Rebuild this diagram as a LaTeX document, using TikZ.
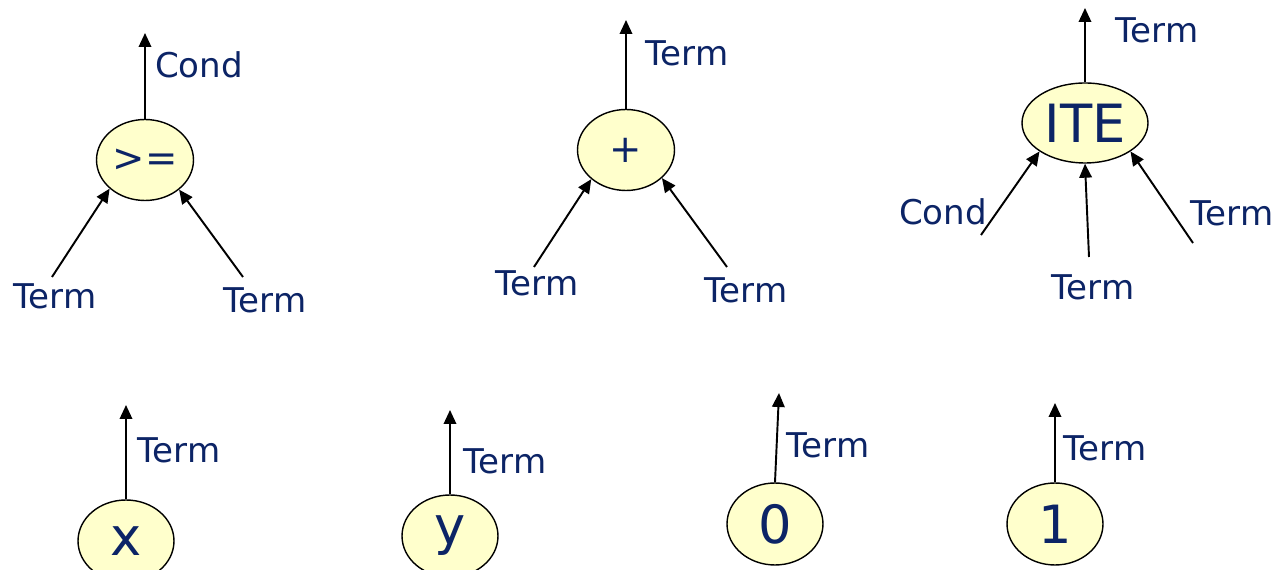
\documentclass[tikz,border=0pt]{standalone}
\usepackage{fontspec}
\setmainfont{DejaVu Sans}
\usetikzlibrary{arrows.meta,positioning,shapes.geometric}
\definecolor{termblue}{RGB}{12,36,102}
\definecolor{opyellow}{RGB}{255,255,204}

\begin{document}
\begin{tikzpicture}[x=0.02cm,y=-0.02cm,
    op/.style={ellipse,draw,line width=0.8pt,fill=opyellow,text=termblue,inner sep=0pt,
      minimum width=1.94cm,minimum height=1.62cm,font=\fontsize{22}{26}\selectfont},
    leaf/.style={op,minimum width=1.92cm,minimum height=1.64cm,font=\fontsize{30}{34}\selectfont},
    lbl/.style={text=termblue,inner sep=0pt,font=\fontsize{19.4}{23}\selectfont},
    arr/.style={-{Triangle[length=2.8mm,width=2.5mm]},line width=1.1pt}]
    \useasboundingbox (0,0) rectangle (1279,570);

    \node[op] (ge) at (145,160) {>=};
    \coordinate (geout) at (145,33);
    \coordinate (gel) at (52,277);
    \coordinate (ger) at (243,277);
    \draw[arr] (ge.north) -- (geout);
    \draw[arr] (gel) -- (ge.219);
    \draw[arr] (ger) -- (ge.319);
    \node[lbl] (gecond) at (199,65) {Cond};
    \node[lbl] (geleft) at (55,296) {Term};
    \node[lbl] (geright) at (265,300) {Term};

    \node[op] (plus) at (626,150) {+};
    \coordinate (plusout) at (626,20);
    \coordinate (plusl) at (534,267);
    \coordinate (plusr) at (727,267);
    \draw[arr] (plus.north) -- (plusout);
    \draw[arr] (plusl) -- (plus.220);
    \draw[arr] (plusr) -- (plus.322);
    \node[lbl] (plusterm) at (687,53) {Term};
    \node[lbl] (plusleft) at (537,283) {Term};
    \node[lbl] (plusright) at (746,290) {Term};

    \node[op,minimum width=2.52cm,minimum height=1.6cm,font=\fontsize{30}{34}\selectfont] (ite) at (1085,123) {ITE};
    \coordinate (iteout) at (1085,8);
    \coordinate (itec) at (981,235);
    \coordinate (item) at (1089,257);
    \coordinate (iter) at (1193,243);
    \draw[arr] (ite.north) -- (iteout);
    \draw[arr] (itec) -- (ite.212);
    \draw[arr] (item) -- (ite.south);
    \draw[arr] (iter) -- (ite.328);
    \node[lbl] (iteterm) at (1157,30) {Term};
    \node[lbl] (itecond) at (943,212) {Cond};
    \node[lbl] (itethen) at (1093,287) {Term};
    \node[lbl] (iteelse) at (1232,213) {Term};

    \foreach \nm/\sym/\cx/\cy/\ux/\uy/\lx/\ly in {vx/x/126/541/126/405/179/450,
        vy/y/450/536/450/410/505/461,
        cz/0/775/524/779/393/828/445,
        co/1/1055/524/1055/403/1105/448}{
        \node[leaf] (\nm) at (\cx,\cy) {\sym};
        \coordinate (\nm out) at (\ux,\uy);
        \draw[arr] (\nm.north) -- (\nm out);
        \node[lbl] (\nm term) at (\lx,\ly) {Term};
    }
\end{tikzpicture}
\end{document}
